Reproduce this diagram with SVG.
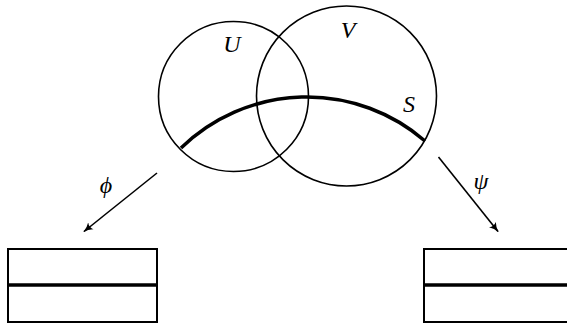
<svg xmlns="http://www.w3.org/2000/svg" width="567" height="326" viewBox="0 0 567 326">
<style>
.thin{fill:none;stroke:#000;stroke-width:1.6}
.thick{fill:none;stroke:#000;stroke-width:3.5}
.box{fill:#fff;stroke:#000;stroke-width:2}
.lbl{font-family:"Liberation Serif","DejaVu Serif",serif;font-style:italic;font-size:24px;fill:#000;text-anchor:middle}
</style>
<defs>
<marker id="ah" viewBox="0 0 10 10" refX="9" refY="5" markerWidth="10" markerHeight="10" markerUnits="userSpaceOnUse" orient="auto">
<path d="M0,0.5 Q4,4 10,5 Q4,6 0,9.5 Q3,5 0,0.5 Z" fill="#000"/>
</marker>
</defs>
<g id="U">
<circle class="thin" cx="233.5" cy="96.5" r="75"/>
<text class="lbl" x="232" y="52">U</text>
</g>
<g id="V">
<circle class="thin" cx="346.5" cy="96" r="90"/>
<text class="lbl" x="348" y="38">V</text>
</g>
<g id="S">
<path class="thick" d="M181,148 A180.6,180.6 0 0 1 425,141"/>
<text class="lbl" x="409" y="112">S</text>
</g>
<g id="left">
<rect class="box" x="8" y="249" width="149" height="73"/>
<line class="thick" x1="8" y1="285" x2="157" y2="285"/>
</g>
<g id="right">
<rect class="box" x="424" y="249" width="160" height="73"/>
<line class="thick" x1="424" y1="285" x2="584" y2="285"/>
</g>
<g id="connectors">
<line class="thin" x1="157" y1="173" x2="84" y2="231.5" marker-end="url(#ah)"/>
<line class="thin" x1="438.5" y1="157" x2="498" y2="231.5" marker-end="url(#ah)"/>
<text class="lbl" x="106" y="193">ϕ</text>
<text class="lbl" x="481" y="189">ψ</text>
</g>
</svg>
